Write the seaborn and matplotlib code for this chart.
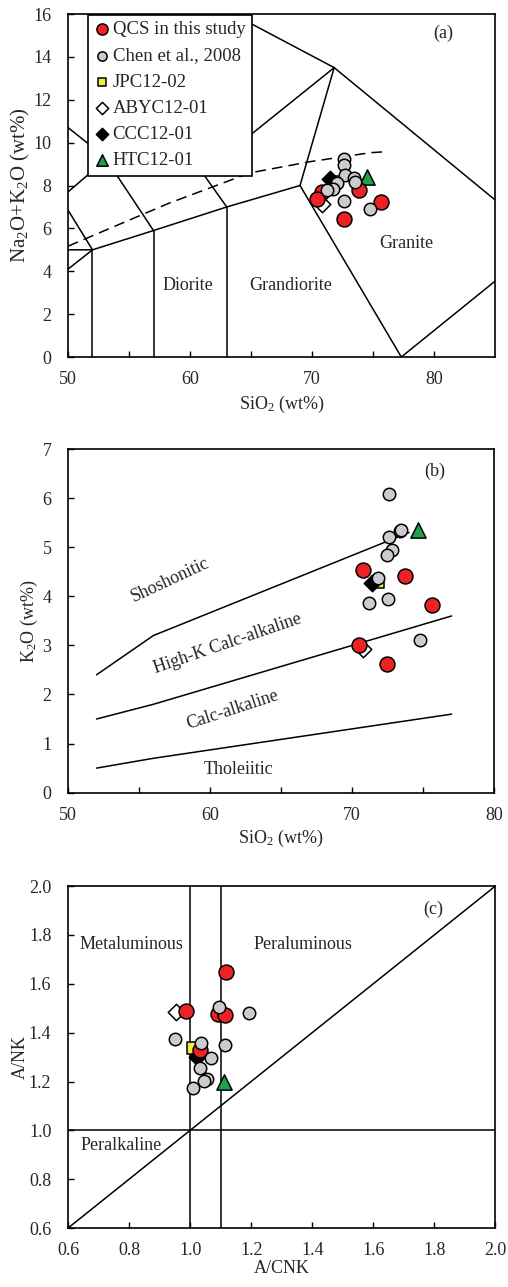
import numpy as np
import pandas as pd
import matplotlib
matplotlib.use("Agg")
import matplotlib.pyplot as plt
import seaborn as sns

# ---- data: (a) TAS ----
qcs_sio2_a = [70.8, 70.4, 73.8, 75.6, 72.6]
qcs_alk_a = [7.70, 7.39, 7.78, 7.24, 6.43]
chen_sio2_a = [72.6, 72.6, 72.7, 73.4, 73.5, 72.0, 71.7, 71.2, 72.6, 74.7]
chen_alk_a = [9.22, 8.95, 8.48, 8.33, 8.17, 8.10, 7.86, 7.78, 7.28, 6.90]
jpc_a = (71.9, 8.18)
abyc_a = (70.8, 7.15)
ccc_a = (71.45, 8.30)
htc_a = (74.5, 8.40)

# ---- data: (b) K2O vs SiO2 ----
qcs_sio2_b = [70.74, 73.73, 75.65, 70.48, 72.48]
qcs_k2o_b = [4.53, 4.42, 3.82, 3.01, 2.62]
chen_sio2_b = [72.6, 73.37, 73.45, 72.62, 72.79, 72.43, 71.78, 71.19, 72.55, 74.78]
chen_k2o_b = [6.08, 5.34, 5.36, 5.20, 4.94, 4.84, 4.37, 3.87, 3.94, 3.11]
jpc_b = (71.78, 4.30)
abyc_b = (70.79, 2.92)
ccc_b = (71.38, 4.28)
htc_b = (74.66, 5.35)

# ---- data: (c) A/NK vs A/CNK ----
qcs_acnk = [1.116, 0.986, 1.090, 1.114, 1.032]
qcs_ank = [1.650, 1.490, 1.476, 1.472, 1.329]
chen_acnk = [1.094, 1.193, 0.952, 1.034, 1.114, 1.067, 1.032, 1.054, 1.045, 1.010]
chen_ank = [1.506, 1.482, 1.373, 1.359, 1.350, 1.295, 1.257, 1.209, 1.204, 1.173]
jpc_c = (1.008, 1.336)
abyc_c = (0.955, 1.486)
ccc_c = (1.021, 1.302)
htc_c = (1.112, 1.196)

# ---- field boundaries ----
tas_lines = [
    [(52, 0), (52, 5)],
    [(57, 0), (57, 5.9)],
    [(63, 0), (63, 7)],
    [(50, 5), (52, 5), (57, 5.9), (63, 7), (69, 8), (77.3, 0), (87.5, 4.7)],
    [(69, 8), (71.8, 13.5), (86, 6.85)],
    [(63.5, 16), (71.8, 13.5)],
    [(71.8, 13.5), (63.5, 9.7)],
    [(63, 7), (60.5, 9.0)],
    [(57, 5.9), (53.5, 8.9)],
    [(50, 4.1), (52, 5), (50, 6.85)],
    [(50, 7.7), (52.5, 8.93)],
    [(50, 10.7), (52.5, 9.57)],
]
tas_dash_x = [50, 58.2, 64.9, 69.8, 74.75, 75.8]
tas_dash_y = [5.17, 7.16, 8.59, 9.11, 9.53, 9.57]

k2o_lines = [
    [(52, 2.4), (56, 3.2), (74, 5.3)],
    [(52, 1.5), (56, 1.8), (77, 3.6)],
    [(52, 0.5), (56, 0.7), (77, 1.6)],
]

groups = ["QCS in this study", "Chen et al., 2008", "JPC12-02", "ABYC12-01", "CCC12-01", "HTC12-01"]
colors = ["#EE2224", "#CCCCCC", "#EEEE44", "white", "black", "#21A04A"]
markers = ["o", "o", "s", "D", "D", "^"]
sizes = [115, 80, 70, 70, 70, 120]

sns.set_theme(style="white")
plt.rcParams["font.family"] = ["Liberation Serif", "DejaVu Serif"]
plt.rcParams["mathtext.fontset"] = "custom"
plt.rcParams["mathtext.rm"] = "Liberation Serif"
plt.rcParams["mathtext.it"] = "Liberation Serif:italic"
plt.rcParams["font.size"] = 13
plt.rcParams["axes.labelsize"] = 13
plt.rcParams["legend.fontsize"] = 13

fig = plt.figure(figsize=(5.08, 12.87), dpi=100)
ax_a = fig.add_axes([0.134, 0.7226, 0.841, 0.2665])
ax_b = fig.add_axes([0.134, 0.3841, 0.839, 0.2670])
ax_c = fig.add_axes([0.134, 0.0458, 0.841, 0.2657])


def draw_points(ax, qx, qy, cx, cy, specials):
    xs = [qx, cx] + [[p[0]] for p in specials]
    ys = [qy, cy] + [[p[1]] for p in specials]
    order = [2, 3, 4, 5, 0, 1]
    for i in order:
        df = pd.DataFrame({"x": xs[i], "y": ys[i]})
        sns.scatterplot(data=df, x="x", y="y", ax=ax, marker=markers[i], s=sizes[i],
                        color=colors[i], edgecolor="black", linewidth=1.1,
                        label=groups[i], zorder=4, legend=False)


def style_axes(ax):
    for sp in ax.spines.values():
        sp.set_color("black")
        sp.set_linewidth(1.2)
    ax.tick_params(which="both", direction="in", bottom=True, left=True,
                   top=False, right=False, color="black", width=1.0, length=4,
                   labelsize=13)
    ax.tick_params(axis="x", pad=10)
    ax.tick_params(axis="y", pad=12)


# ---- (a) ----
ax = ax_a
for seg in tas_lines:
    sx, sy = zip(*seg)
    ax.plot(sx, sy, color="black", lw=1.1, zorder=2)
ax.plot(tas_dash_x, tas_dash_y, color="black", lw=1.1, ls=(0, (7, 4)), zorder=2)
draw_points(ax, qcs_sio2_a, qcs_alk_a, chen_sio2_a, chen_alk_a, [jpc_a, abyc_a, ccc_a, htc_a])
ax.set_xlim(50, 85)
ax.set_ylim(0, 16)
ax.set_xticks([50, 60, 70, 80])
ax.set_xticks([55, 65, 75], minor=True)
ax.set_yticks(np.arange(0, 17, 2))
ax.text(59.8, 3.35, "Diorite", ha="center", va="center")
ax.text(68.2, 3.35, "Grandiorite", ha="center", va="center")
ax.text(77.7, 5.3, "Granite", ha="center", va="center")
ax.text(80.7, 15.1, "(a)", ha="center", va="center")
ax.set_xlabel(r"SiO$_2$ (wt%)", fontsize=13, labelpad=4)
ax.set_ylabel(r"Na$_2$O+K$_2$O (wt%)", fontsize=15, labelpad=1)
handles, labels = ax.get_legend_handles_labels()
idx = [labels.index(g) for g in groups]
leg = ax.legend([handles[i] for i in idx], [labels[i] for i in idx],
                loc="upper left", bbox_to_anchor=(0.047, 0.998), borderaxespad=0,
                frameon=True, fancybox=False, framealpha=1, edgecolor="black",
                handlelength=0.75, handletextpad=0.2, labelspacing=0.48,
                borderpad=0.35, markerscale=0.75, fontsize=13.5)
leg.get_frame().set_linewidth(1.2)
leg.set_zorder(10)
style_axes(ax)

# ---- (b) ----
ax = ax_b
for seg in k2o_lines:
    sx, sy = zip(*seg)
    ax.plot(sx, sy, color="black", lw=1.1, zorder=2)
draw_points(ax, qcs_sio2_b, qcs_k2o_b, chen_sio2_b, chen_k2o_b, [jpc_b, abyc_b, ccc_b, htc_b])
ax.set_xlim(50, 80)
ax.set_ylim(0, 7)
ax.set_xticks([50, 60, 70, 80])
ax.set_xticks([55, 65, 75], minor=True)
ax.set_yticks(np.arange(0, 8, 1))
ax.text(57.2, 4.33, "Shoshonitic", ha="center", va="center", rotation=25)
ax.text(61.2, 3.04, "High-K Calc-alkaline", ha="center", va="center", rotation=19)
ax.text(61.6, 1.68, "Calc-alkaline", ha="center", va="center", rotation=18)
ax.text(62.0, 0.48, "Tholeiitic", ha="center", va="center")
ax.text(75.8, 6.54, "(b)", ha="center", va="center")
ax.set_xlabel(r"SiO$_2$ (wt%)", fontsize=13, labelpad=3)
ax.set_ylabel(r"K$_2$O (wt%)", fontsize=13, labelpad=2)
style_axes(ax)

# ---- (c) ----
ax = ax_c
ax.plot([1.0, 1.0], [0.6, 2.0], color="black", lw=1.1, zorder=2)
ax.plot([1.1, 1.1], [0.6, 2.0], color="black", lw=1.1, zorder=2)
ax.plot([0.6, 2.0], [1.0, 1.0], color="black", lw=1.1, zorder=2)
ax.plot([0.6, 2.0], [0.6, 2.0], color="black", lw=1.1, zorder=2)
draw_points(ax, qcs_acnk, qcs_ank, chen_acnk, chen_ank, [jpc_c, abyc_c, ccc_c, htc_c])
ax.set_xlim(0.6, 2.0)
ax.set_ylim(0.6, 2.0)
ticks = np.round(np.arange(0.6, 2.01, 0.2), 1)
ax.set_xticks(ticks)
ax.set_yticks(ticks)
ax.set_xticklabels([f"{t:.1f}" for t in ticks])
ax.set_yticklabels([f"{t:.1f}" for t in ticks])
ax.text(0.808, 1.759, "Metaluminous", ha="center", va="center")
ax.text(1.371, 1.759, "Peraluminous", ha="center", va="center")
ax.text(0.775, 0.937, "Peralkaline", ha="center", va="center")
ax.text(1.798, 1.905, "(c)", ha="center", va="center")
ax.set_xlabel("A/CNK", fontsize=13, labelpad=1)
ax.set_ylabel("A/NK", fontsize=13, labelpad=0)
style_axes(ax)

fig.savefig("out.png", dpi=100, facecolor="white")
